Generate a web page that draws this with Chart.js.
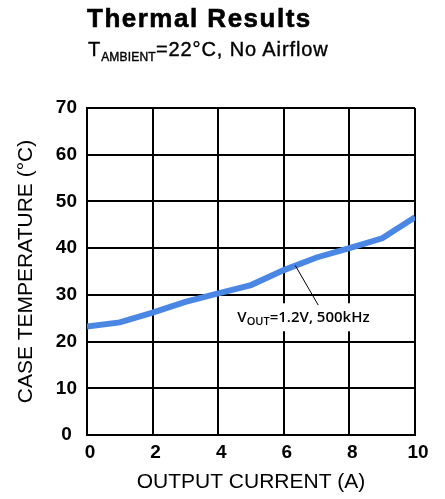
<!DOCTYPE html>
<html><head><meta charset="utf-8">
<script src="https://cdn.jsdelivr.net/npm/chart.js@4"></script>
<style>
html,body{margin:0;padding:0;background:#fff;}
#wrap{position:relative;width:445px;height:499px;overflow:hidden;}
canvas{position:absolute;left:0;top:0;}
.t{position:absolute;font-family:"Liberation Sans",Arial,sans-serif;color:#000;white-space:nowrap;line-height:1;}
#title{left:87px;top:5px;font-size:26px;font-weight:bold;letter-spacing:1.5px;-webkit-text-stroke:0.6px #000;}
#sub{left:88px;top:39px;font-size:20px;letter-spacing:0.9px;-webkit-text-stroke:0.4px #000;}
#sub sub{font-size:12px;vertical-align:baseline;position:relative;top:5px;letter-spacing:0.2px;}
</style></head><body>
<div id="wrap"><canvas id="c" width="445" height="499" style="width:445px;height:499px"></canvas>
<div class="t" id="title">Thermal Results</div>
<div class="t" id="sub">T<sub>AMBIENT</sub>=22°C, No Airflow</div>
</div>
<script>
// ---- data ----
const outputCurrent = [0, 1, 2, 3, 4, 5, 6, 7, 8, 9, 10];
const caseTemperature = [23.2, 24.1, 26.2, 28.5, 30.3, 32.1, 35.3, 38.0, 40.0, 42.1, 46.6];
const seriesLabel = "VOUT=1.2V, 500kHz";
const xTitle = "OUTPUT CURRENT (A)";
const yTitle = "CASE TEMPERATURE (°C)";
// annotation: leader from point on curve to label (data coords)
const leaderFrom = [6.35, 36.3];
const leaderTo = [7.05, 27.8];
const labelAt = [6.6, 25.2]; // center of label box

const FONT = '"Liberation Sans", Arial, sans-serif';

const annotPlugin = {
  id: 'annot',
  afterDatasetsDraw(chart) {
    const {ctx, scales: {x, y}} = chart;
    const cx = x.getPixelForValue(labelAt[0]);
    const cy = y.getPixelForValue(labelAt[1]);
    ctx.save();
    const big = '600 15px "Open Sans", ' + FONT;
    const small = '600 11px "Open Sans", ' + FONT;
    ctx.font = big; const w1 = ctx.measureText('V').width;
    ctx.font = small; const w2 = ctx.measureText('OUT').width;
    ctx.font = big; const w3 = ctx.measureText('=1.2V, 500kHz').width;
    const tw = w1 + w2 + w3;
    // white box
    ctx.fillStyle = '#fff';
    ctx.fillRect(cx - tw / 2 - 3, cy - 14, tw + 6, 28);
    // leader
    ctx.strokeStyle = '#000'; ctx.lineWidth = 1;
    ctx.beginPath();
    ctx.moveTo(x.getPixelForValue(leaderFrom[0]), y.getPixelForValue(leaderFrom[1]));
    ctx.lineTo(x.getPixelForValue(leaderTo[0]), y.getPixelForValue(leaderTo[1]));
    ctx.stroke();
    // text
    ctx.fillStyle = '#000'; ctx.textBaseline = 'alphabetic';
    let sx = cx - tw / 2; const base = cy + 5;
    ctx.font = big; ctx.fillText('V', sx, base); sx += w1;
    ctx.font = small; ctx.fillText('OUT', sx, base + 3); sx += w2;
    ctx.font = big; ctx.fillText('=1.2V, 500kHz', sx, base);
    ctx.restore();
  }
};

new Chart(document.getElementById('c'), {
  type: 'line',
  data: {
    datasets: [{
      label: seriesLabel,
      data: outputCurrent.map((v, i) => ({x: v, y: caseTemperature[i]})),
      borderColor: '#4a87e4',
      borderWidth: 6,
      pointRadius: 0,
      tension: 0,
      fill: false
    }]
  },
  options: {
    responsive: false,
    animation: false,
    devicePixelRatio: 1,
    layout: {padding: {left: 0, right: 30, top: 108, bottom: 0}},
    plugins: {legend: {display: false}, tooltip: {enabled: false}},
    scales: {
      x: {
        type: 'linear', min: 0, max: 10,
        ticks: {stepSize: 2, color: '#000', padding: 6, labelOffset: 3, font: {family: FONT, size: 19, weight: 'bold'}},
        grid: {color: '#000', lineWidth: 2, drawTicks: false},
        border: {color: '#000', width: 2},
        title: {display: true, text: xTitle, color: '#000', font: {family: FONT, size: 21}, padding: {top: 0, bottom: 4}},
        afterFit(s) { s.height = 64; }
      },
      y: {
        min: 0, max: 70,
        ticks: {stepSize: 10, color: '#000', padding: 10, crossAlign: 'center', font: {family: FONT, size: 19, weight: 'bold'}},
        grid: {color: '#000', lineWidth: 2, drawTicks: false},
        border: {color: '#000', width: 2},
        title: {display: true, text: yTitle, color: '#000', font: {family: FONT, size: 21}, padding: {top: 14, bottom: 0}},
        afterFit(s) { s.width = 87; }
      }
    }
  },
  plugins: [annotPlugin]
});
</script>
</body></html>
